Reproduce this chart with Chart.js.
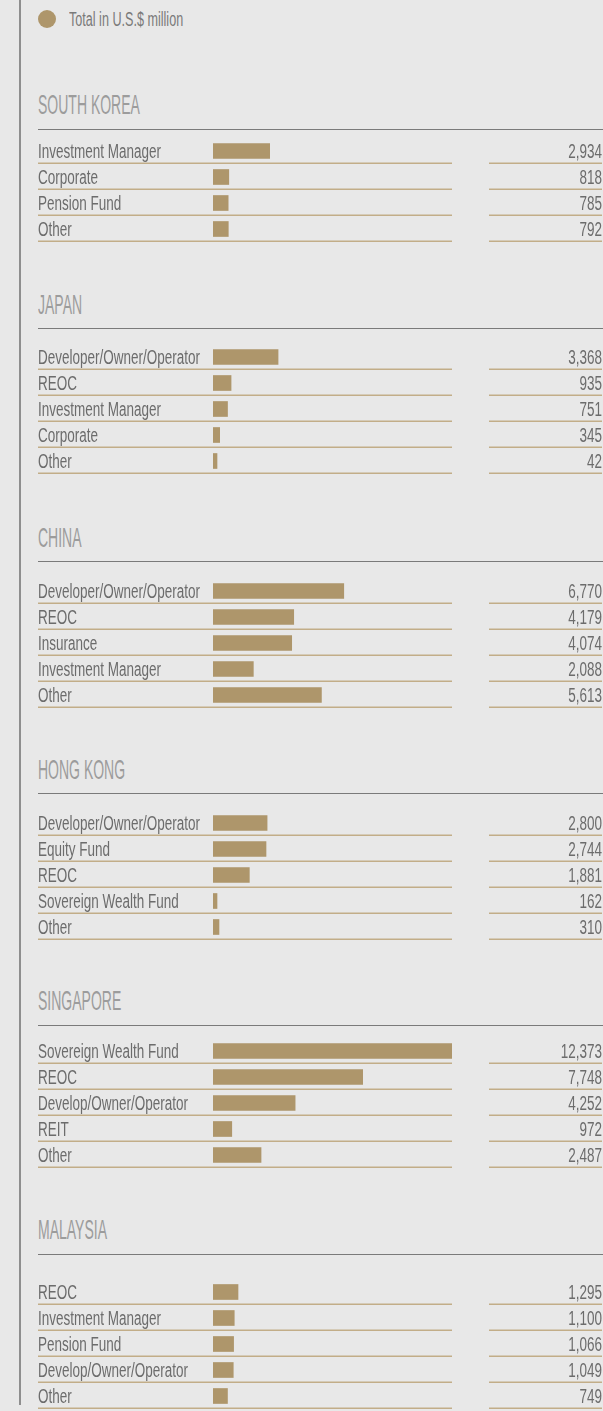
<!DOCTYPE html>
<html>
<head>
<meta charset="utf-8">
<script src="https://cdn.jsdelivr.net/npm/chart.js@4.4.1/dist/chart.umd.min.js"></script>
<style>
  html, body { margin: 0; padding: 0; }
  body { width: 603px; height: 1411px; background: #e8e8e8; position: relative; overflow: hidden;
         font-family: 'Liberation Sans', Arial, sans-serif; }
  .vline { position: absolute; left: 19px; top: 0; width: 2px; height: 1405px; background: #8e8e8e; }
  .legend { position: absolute; left: 38px; top: 10px; height: 18px; display: flex; align-items: center; }
  .legend .dot { width: 18px; height: 18px; border-radius: 50%; background: #ae966b; flex: none; }
  .legend .txt { margin-left: 13px; font-size: 20px; color: #7a7a7a; transform: scaleX(0.63); transform-origin: left center; white-space: nowrap; }
  .title { position: absolute; left: 38px; font-size: 28px; color: #9c9c9c; transform: scaleX(0.5); transform-origin: left center;
           white-space: nowrap; line-height: 28px; }
  .rule { position: absolute; left: 38px; width: 565px; height: 0; border-top: 1.5px solid #7a7a7a; }
  canvas.sec { position: absolute; left: 38px; }
</style>
</head>
<body>
<div class="vline"></div>
<div class="legend"><div class="dot"></div><div class="txt">Total in U.S.$ million</div></div>
<div id="wrap"></div>
<script>
// data
const regions = ['SOUTH KOREA', 'JAPAN', 'CHINA', 'HONG KONG', 'SINGAPORE', 'MALAYSIA'];

const southKoreaLabels = ['Investment Manager', 'Corporate', 'Pension Fund', 'Other'];
const southKoreaValues = [2934, 818, 785, 792];

const japanLabels = ['Developer/Owner/Operator', 'REOC', 'Investment Manager', 'Corporate', 'Other'];
const japanValues = [3368, 935, 751, 345, 42];

const chinaLabels = ['Developer/Owner/Operator', 'REOC', 'Insurance', 'Investment Manager', 'Other'];
const chinaValues = [6770, 4179, 4074, 2088, 5613];

const hongKongLabels = ['Developer/Owner/Operator', 'Equity Fund', 'REOC', 'Sovereign Wealth Fund', 'Other'];
const hongKongValues = [2800, 2744, 1881, 162, 310];

const singaporeLabels = ['Sovereign Wealth Fund', 'REOC', 'Develop/Owner/Operator', 'REIT', 'Other'];
const singaporeValues = [12373, 7748, 4252, 972, 2487];

const malaysiaLabels = ['REOC', 'Investment Manager', 'Pension Fund', 'Develop/Owner/Operator', 'Other'];
const malaysiaValues = [1295, 1100, 1066, 1049, 749];

const sectionLabels = [southKoreaLabels, japanLabels, chinaLabels, hongKongLabels, singaporeLabels, malaysiaLabels];
const sectionValues = [southKoreaValues, japanValues, chinaValues, hongKongValues, singaporeValues, malaysiaValues];
const axisMax = 12373;

// page layout (title centre, rule, first row centre)
const titleY = [105, 305, 538, 770, 1001, 1230];
const ruleY = [130, 329, 562, 794, 1026, 1255];
const firstRowY = [151, 357, 591, 823, 1051, 1292];
const ROW = 26;

const FONT = "'Liberation Sans', Arial, sans-serif";
const SQUEEZE = 0.675;   // the original type is a very condensed face
const BAR = '#ae966b';
const LINE = '#c2ad88';

function narrowText(ctx, str, x, y, align) {
  ctx.save();
  ctx.translate(x, y);
  ctx.scale(SQUEEZE, 1);
  ctx.textAlign = align;
  ctx.fillText(str, 0, 0);
  ctx.restore();
}

const rowDecor = {
  id: 'rowDecor',
  afterDatasetsDraw(chart) {
    const { ctx, chartArea, scales } = chart;
    const vals = chart.data.datasets[0].data;
    const labels = chart.data.labels;
    const W = chart.width;
    ctx.save();
    ctx.strokeStyle = LINE;
    ctx.lineWidth = 1.5;
    ctx.fillStyle = '#6c6c6c';
    ctx.font = '20px ' + FONT;
    ctx.textBaseline = 'middle';
    vals.forEach((v, i) => {
      const y = scales.y.getPixelForValue(i);
      const ly = Math.round(y + 12) + 0.25;
      ctx.beginPath();
      ctx.moveTo(0, ly); ctx.lineTo(chartArea.right, ly);
      ctx.moveTo(451, ly); ctx.lineTo(W - 1, ly);
      ctx.stroke();
      narrowText(ctx, labels[i], 0, y + 1, 'left');
      narrowText(ctx, v.toLocaleString('en-US'), W - 1, y + 1, 'right');
    });
    ctx.restore();
  }
};

const wrap = document.getElementById('wrap');
regions.forEach((name, k) => {
  const t = document.createElement('div');
  t.className = 'title';
  t.style.top = (titleY[k] - 14) + 'px';
  t.textContent = name;
  wrap.appendChild(t);

  const r = document.createElement('div');
  r.className = 'rule';
  r.style.top = (ruleY[k] - 1) + 'px';
  wrap.appendChild(r);

  const n = sectionLabels[k].length;
  const cv = document.createElement('canvas');
  cv.className = 'sec';
  cv.width = 565;
  cv.height = n * ROW + 3;
  cv.style.top = (firstRowY[k] - ROW / 2) + 'px';
  wrap.appendChild(cv);

  new Chart(cv, {
    type: 'bar',
    data: {
      labels: sectionLabels[k],
      datasets: [{
        data: sectionValues[k],
        backgroundColor: BAR,
        barThickness: 15,
        minBarLength: 4,
        borderWidth: 0
      }]
    },
    options: {
      indexAxis: 'y',
      responsive: false,
      animation: false,
      layout: { padding: { left: 175, right: 151, top: 0, bottom: 3 } },
      plugins: { legend: { display: false }, tooltip: { enabled: false } },
      scales: {
        x: { display: false, min: 0, max: axisMax },
        y: { display: false }
      }
    },
    plugins: [rowDecor]
  });
});
</script>
</body>
</html>
